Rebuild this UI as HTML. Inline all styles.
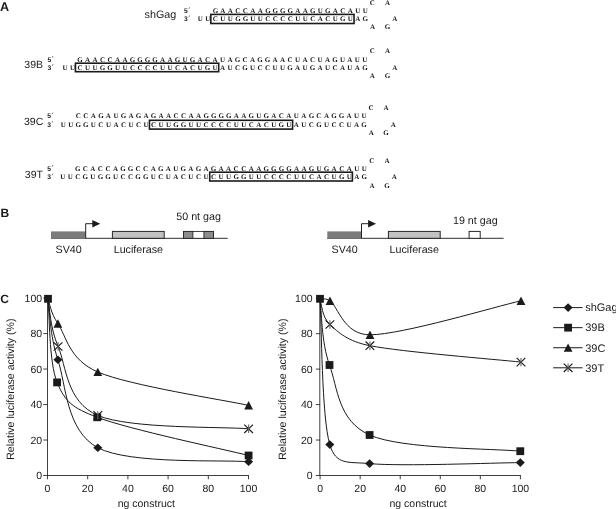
<!DOCTYPE html>
<html>
<head>
<meta charset="utf-8">
<title>Figure</title>
<style>
html, body { margin: 0; padding: 0; background: #ffffff; }
body { width: 616px; height: 509px; overflow: hidden; font-family: "Liberation Sans", sans-serif; }
svg { display: block; will-change: transform; }
text { white-space: pre; text-rendering: geometricPrecision; }
</style>
</head>
<body>
<svg width="616" height="509" viewBox="0 0 616 509">
<rect x="0" y="0" width="616" height="509" fill="#ffffff"/>
<text x="200.40 207.90 215.39 222.89 230.38 237.88 245.37 252.87 260.36 267.86 275.35 282.85 290.35 297.84 305.34 312.83 320.33 327.82 335.32 342.81 350.31 357.80 365.30" y="21.20" font-size="7.0" text-anchor="middle" font-weight="bold" font-family='"Liberation Serif", serif' fill="#1a1a1a">UUCUUGGUUCCCCUUCACUGUAG</text>
<text x="215.39 222.89 230.38 237.88 245.37 252.87 260.36 267.86 275.35 282.85 290.35 297.84 305.34 312.83 320.33 327.82 335.32 342.81 350.31 357.80 365.30" y="13.00" font-size="7.0" text-anchor="middle" font-weight="bold" font-family='"Liberation Serif", serif' fill="#1a1a1a">GAACCAAGGGGAAGUGACAUU</text>
<rect x="210.84" y="14.40" width="143.21" height="9.10" fill="none" stroke="#1a1a1a" stroke-width="1.6"/>
<text x="372.40" y="4.70" font-size="7.0" text-anchor="middle" font-weight="bold" font-family='"Liberation Serif", serif' fill="#1a1a1a">C</text>
<text x="387.50" y="4.70" font-size="7.0" text-anchor="middle" font-weight="bold" font-family='"Liberation Serif", serif' fill="#1a1a1a">A</text>
<text x="394.70" y="21.20" font-size="7.0" text-anchor="middle" font-weight="bold" font-family='"Liberation Serif", serif' fill="#1a1a1a">A</text>
<text x="372.50" y="29.20" font-size="7.0" text-anchor="middle" font-weight="bold" font-family='"Liberation Serif", serif' fill="#1a1a1a">A</text>
<text x="387.50" y="29.20" font-size="7.0" text-anchor="middle" font-weight="bold" font-family='"Liberation Serif", serif' fill="#1a1a1a">G</text>
<text x="144.60" y="18.10" font-size="10.75" text-anchor="start" font-weight="normal" font-family='"Liberation Sans", sans-serif' fill="#1a1a1a" >shGag</text>
<text x="184.00" y="12.90" font-size="6.7" text-anchor="start" font-weight="bold" font-family='"Liberation Sans", sans-serif' fill="#1a1a1a" >5</text>
<line x1="189.60" y1="7.30" x2="188.90" y2="8.90" stroke="#444" stroke-width="0.7"/>
<text x="184.00" y="21.10" font-size="6.7" text-anchor="start" font-weight="bold" font-family='"Liberation Sans", sans-serif' fill="#1a1a1a" >3</text>
<line x1="189.60" y1="15.50" x2="188.90" y2="17.10" stroke="#444" stroke-width="0.7"/>
<text x="65.00 72.50 80.00 87.49 94.99 102.49 109.98 117.48 124.98 132.48 139.97 147.47 154.97 162.47 169.96 177.46 184.96 192.46 199.95 207.45 214.95 222.45 229.94 237.44 244.94 252.44 259.94 267.43 274.93 282.43 289.92 297.42 304.92 312.42 319.91 327.41 334.91 342.41 349.90 357.40 364.90" y="69.80" font-size="7.0" text-anchor="middle" font-weight="bold" font-family='"Liberation Serif", serif' fill="#1a1a1a">UUCUUGGUUCCCCUUCACUGUAUCGUCCUUGAUGAUCAUAG</text>
<text x="80.00 87.49 94.99 102.49 109.98 117.48 124.98 132.48 139.97 147.47 154.97 162.47 169.97 177.46 184.96 192.46 199.95 207.45 214.95 222.45 229.94 237.44 244.94 252.44 259.94 267.43 274.93 282.43 289.92 297.42 304.92 312.42 319.91 327.41 334.91 342.41 349.90 357.40 364.90" y="61.70" font-size="7.0" text-anchor="middle" font-weight="bold" font-family='"Liberation Serif", serif' fill="#1a1a1a">GAACCAAGGGGAAGUGACAUAGCAGGAACUACUAGUAUU</text>
<rect x="75.45" y="63.20" width="143.25" height="8.50" fill="none" stroke="#1a1a1a" stroke-width="1.6"/>
<text x="372.30" y="53.00" font-size="7.0" text-anchor="middle" font-weight="bold" font-family='"Liberation Serif", serif' fill="#1a1a1a">C</text>
<text x="387.50" y="53.00" font-size="7.0" text-anchor="middle" font-weight="bold" font-family='"Liberation Serif", serif' fill="#1a1a1a">A</text>
<text x="394.80" y="69.80" font-size="7.0" text-anchor="middle" font-weight="bold" font-family='"Liberation Serif", serif' fill="#1a1a1a">A</text>
<text x="372.40" y="78.10" font-size="7.0" text-anchor="middle" font-weight="bold" font-family='"Liberation Serif", serif' fill="#1a1a1a">A</text>
<text x="387.50" y="78.10" font-size="7.0" text-anchor="middle" font-weight="bold" font-family='"Liberation Serif", serif' fill="#1a1a1a">G</text>
<text x="24.30" y="68.30" font-size="10.5" text-anchor="start" font-weight="normal" font-family='"Liberation Sans", sans-serif' fill="#1a1a1a" >39B</text>
<text x="47.40" y="61.60" font-size="6.7" text-anchor="start" font-weight="bold" font-family='"Liberation Sans", sans-serif' fill="#1a1a1a" >5</text>
<line x1="53.00" y1="56.00" x2="52.30" y2="57.60" stroke="#444" stroke-width="0.7"/>
<text x="47.40" y="69.70" font-size="6.7" text-anchor="start" font-weight="bold" font-family='"Liberation Sans", sans-serif' fill="#1a1a1a" >3</text>
<line x1="53.00" y1="64.10" x2="52.30" y2="65.70" stroke="#444" stroke-width="0.7"/>
<text x="63.30 70.82 78.33 85.85 93.37 100.89 108.41 115.92 123.44 130.96 138.47 145.99 153.51 161.03 168.55 176.06 183.58 191.10 198.62 206.13 213.65 221.17 228.69 236.20 243.72 251.24 258.75 266.27 273.79 281.31 288.82 296.34 303.86 311.38 318.89 326.41 333.93 341.45 348.97 356.48 364.00" y="126.70" font-size="7.0" text-anchor="middle" font-weight="bold" font-family='"Liberation Serif", serif' fill="#1a1a1a">UUGGUCUACUCUCUUGGUUCCCCUUCACUGUAUCGUCCUAG</text>
<text x="78.33 85.85 93.37 100.89 108.40 115.92 123.44 130.96 138.47 145.99 153.51 161.03 168.54 176.06 183.58 191.10 198.61 206.13 213.65 221.17 228.68 236.20 243.72 251.24 258.75 266.27 273.79 281.31 288.82 296.34 303.86 311.38 318.89 326.41 333.93 341.45 348.96 356.48 364.00" y="118.40" font-size="7.0" text-anchor="middle" font-weight="bold" font-family='"Liberation Serif", serif' fill="#1a1a1a">CCAGAUGAGAGAACCAAGGGGAAGUGACAUAGCAGGAUU</text>
<rect x="149.45" y="120.30" width="143.13" height="8.80" fill="none" stroke="#1a1a1a" stroke-width="1.6"/>
<text x="371.10" y="109.90" font-size="7.0" text-anchor="middle" font-weight="bold" font-family='"Liberation Serif", serif' fill="#1a1a1a">C</text>
<text x="386.00" y="109.90" font-size="7.0" text-anchor="middle" font-weight="bold" font-family='"Liberation Serif", serif' fill="#1a1a1a">A</text>
<text x="393.40" y="126.70" font-size="7.0" text-anchor="middle" font-weight="bold" font-family='"Liberation Serif", serif' fill="#1a1a1a">A</text>
<text x="371.20" y="135.00" font-size="7.0" text-anchor="middle" font-weight="bold" font-family='"Liberation Serif", serif' fill="#1a1a1a">A</text>
<text x="386.00" y="135.00" font-size="7.0" text-anchor="middle" font-weight="bold" font-family='"Liberation Serif", serif' fill="#1a1a1a">G</text>
<text x="24.00" y="125.20" font-size="10.5" text-anchor="start" font-weight="normal" font-family='"Liberation Sans", sans-serif' fill="#1a1a1a" >39C</text>
<text x="47.20" y="118.30" font-size="6.7" text-anchor="start" font-weight="bold" font-family='"Liberation Sans", sans-serif' fill="#1a1a1a" >5</text>
<line x1="52.80" y1="112.70" x2="52.10" y2="114.30" stroke="#444" stroke-width="0.7"/>
<text x="47.20" y="126.60" font-size="6.7" text-anchor="start" font-weight="bold" font-family='"Liberation Sans", sans-serif' fill="#1a1a1a" >3</text>
<line x1="52.80" y1="121.00" x2="52.10" y2="122.60" stroke="#444" stroke-width="0.7"/>
<text x="62.70 70.24 77.78 85.32 92.86 100.40 107.94 115.48 123.02 130.56 138.10 145.64 153.18 160.72 168.26 175.80 183.34 190.88 198.42 205.96 213.50 221.04 228.58 236.12 243.66 251.20 258.74 266.28 273.82 281.36 288.90 296.44 303.98 311.52 319.06 326.60 334.14 341.68 349.22 356.76 364.30" y="179.30" font-size="7.0" text-anchor="middle" font-weight="bold" font-family='"Liberation Serif", serif' fill="#1a1a1a">UUCGUGGUCCGGUCUACUCUCUUGGUUCCCCUUCACUGUAG</text>
<text x="77.78 85.32 92.86 100.40 107.94 115.48 123.02 130.56 138.10 145.64 153.18 160.72 168.26 175.80 183.34 190.88 198.42 205.96 213.50 221.04 228.58 236.12 243.66 251.20 258.74 266.28 273.82 281.36 288.90 296.44 303.98 311.52 319.06 326.60 334.14 341.68 349.22 356.76 364.30" y="170.70" font-size="7.0" text-anchor="middle" font-weight="bold" font-family='"Liberation Serif", serif' fill="#1a1a1a">GCACCAGGCCAGAUGAGAGAACCAAGGGGAAGUGACAUU</text>
<rect x="209.73" y="172.20" width="142.66" height="8.80" fill="none" stroke="#1a1a1a" stroke-width="1.6"/>
<text x="371.90" y="162.50" font-size="7.0" text-anchor="middle" font-weight="bold" font-family='"Liberation Serif", serif' fill="#1a1a1a">C</text>
<text x="387.00" y="162.50" font-size="7.0" text-anchor="middle" font-weight="bold" font-family='"Liberation Serif", serif' fill="#1a1a1a">A</text>
<text x="394.30" y="179.30" font-size="7.0" text-anchor="middle" font-weight="bold" font-family='"Liberation Serif", serif' fill="#1a1a1a">A</text>
<text x="372.00" y="187.50" font-size="7.0" text-anchor="middle" font-weight="bold" font-family='"Liberation Serif", serif' fill="#1a1a1a">A</text>
<text x="387.00" y="187.50" font-size="7.0" text-anchor="middle" font-weight="bold" font-family='"Liberation Serif", serif' fill="#1a1a1a">G</text>
<text x="24.80" y="177.80" font-size="10.5" text-anchor="start" font-weight="normal" font-family='"Liberation Sans", sans-serif' fill="#1a1a1a" >39T</text>
<text x="47.20" y="170.60" font-size="6.7" text-anchor="start" font-weight="bold" font-family='"Liberation Sans", sans-serif' fill="#1a1a1a" >5</text>
<line x1="52.80" y1="165.00" x2="52.10" y2="166.60" stroke="#444" stroke-width="0.7"/>
<text x="47.20" y="179.20" font-size="6.7" text-anchor="start" font-weight="bold" font-family='"Liberation Sans", sans-serif' fill="#1a1a1a" >3</text>
<line x1="52.80" y1="173.60" x2="52.10" y2="175.20" stroke="#444" stroke-width="0.7"/>
<text x="0.10" y="10.80" font-size="12.6" text-anchor="start" font-weight="bold" font-family='"Liberation Sans", sans-serif' fill="#1a1a1a" >A</text>
<text x="0.60" y="217.00" font-size="12" text-anchor="start" font-weight="bold" font-family='"Liberation Sans", sans-serif' fill="#1a1a1a" >B</text>
<text x="0.30" y="302.80" font-size="12" text-anchor="start" font-weight="bold" font-family='"Liberation Sans", sans-serif' fill="#1a1a1a" >C</text>
<line x1="51" y1="238.3" x2="227.7" y2="238.3" stroke="#222222" stroke-width="0.95"/>
<rect x="51" y="231.4" width="34.50" height="7.30" fill="#7b7b7b" stroke="none"/>
<polyline points="85.70,238.3 85.70,223.7 93.00,223.7" fill="none" stroke="#222222" stroke-width="1.0"/>
<polygon points="92.30,220.0 92.30,227.4 100.20,223.7" fill="#1a1a1a"/>
<rect x="112.4" y="231.4" width="51.80" height="6.90" fill="#c2c2c2" stroke="#222222" stroke-width="0.95"/>
<rect x="183.5" y="231.4" width="30.00" height="6.90" fill="#ffffff" stroke="#222222" stroke-width="0.85"/>
<rect x="183.5" y="231.4" width="9.4" height="6.90" fill="#8c8c8c" stroke="#222222" stroke-width="0.85"/>
<rect x="203.90" y="231.4" width="9.6" height="6.90" fill="#8c8c8c" stroke="#222222" stroke-width="0.85"/>
<text x="176.30" y="219.80" font-size="10.7" text-anchor="start" font-weight="normal" font-family='"Liberation Sans", sans-serif' fill="#1a1a1a" >50 nt gag</text>
<text x="55.50" y="252.60" font-size="10.7" text-anchor="start" font-weight="normal" font-family='"Liberation Sans", sans-serif' fill="#1a1a1a" >SV40</text>
<text x="113.70" y="252.60" font-size="10.7" text-anchor="start" font-weight="normal" font-family='"Liberation Sans", sans-serif' fill="#1a1a1a" >Luciferase</text>
<line x1="327.3" y1="238.3" x2="503.6" y2="238.3" stroke="#222222" stroke-width="0.95"/>
<rect x="327.3" y="231.4" width="34.00" height="7.30" fill="#7b7b7b" stroke="none"/>
<polyline points="361.50,238.3 361.50,223.7 368.80,223.7" fill="none" stroke="#222222" stroke-width="1.0"/>
<polygon points="368.10,220.0 368.10,227.4 376.00,223.7" fill="#1a1a1a"/>
<rect x="388.4" y="231.4" width="51.80" height="6.90" fill="#c2c2c2" stroke="#222222" stroke-width="0.95"/>
<rect x="469.1" y="231.4" width="11.10" height="6.90" fill="#ffffff" stroke="#222222" stroke-width="0.95"/>
<text x="453.00" y="223.50" font-size="10.7" text-anchor="start" font-weight="normal" font-family='"Liberation Sans", sans-serif' fill="#1a1a1a" >19 nt gag</text>
<text x="331.50" y="252.60" font-size="10.7" text-anchor="start" font-weight="normal" font-family='"Liberation Sans", sans-serif' fill="#1a1a1a" >SV40</text>
<text x="389.60" y="252.60" font-size="10.7" text-anchor="start" font-weight="normal" font-family='"Liberation Sans", sans-serif' fill="#1a1a1a" >Luciferase</text>
<line x1="47.5" y1="297.6" x2="47.5" y2="476.0" stroke="#2a2a2a" stroke-width="0.9"/>
<line x1="47.0" y1="475.5" x2="249.0" y2="475.5" stroke="#2a2a2a" stroke-width="0.9"/>
<line x1="43.3" y1="475.50" x2="47.5" y2="475.50" stroke="#2a2a2a" stroke-width="0.9"/>
<text x="42.10" y="479.25" font-size="10.5" text-anchor="end" font-weight="normal" font-family='"Liberation Sans", sans-serif' fill="#1a1a1a" >0</text>
<line x1="47.50" y1="475.5" x2="47.50" y2="479.3" stroke="#2a2a2a" stroke-width="0.9"/>
<text x="47.50" y="491.50" font-size="10.5" text-anchor="middle" font-weight="normal" font-family='"Liberation Sans", sans-serif' fill="#1a1a1a" >0</text>
<line x1="43.3" y1="440.02" x2="47.5" y2="440.02" stroke="#2a2a2a" stroke-width="0.9"/>
<text x="42.10" y="443.77" font-size="10.5" text-anchor="end" font-weight="normal" font-family='"Liberation Sans", sans-serif' fill="#1a1a1a" >20</text>
<line x1="87.70" y1="475.5" x2="87.70" y2="479.3" stroke="#2a2a2a" stroke-width="0.9"/>
<text x="87.70" y="491.50" font-size="10.5" text-anchor="middle" font-weight="normal" font-family='"Liberation Sans", sans-serif' fill="#1a1a1a" >20</text>
<line x1="43.3" y1="404.54" x2="47.5" y2="404.54" stroke="#2a2a2a" stroke-width="0.9"/>
<text x="42.10" y="408.29" font-size="10.5" text-anchor="end" font-weight="normal" font-family='"Liberation Sans", sans-serif' fill="#1a1a1a" >40</text>
<line x1="127.90" y1="475.5" x2="127.90" y2="479.3" stroke="#2a2a2a" stroke-width="0.9"/>
<text x="127.90" y="491.50" font-size="10.5" text-anchor="middle" font-weight="normal" font-family='"Liberation Sans", sans-serif' fill="#1a1a1a" >40</text>
<line x1="43.3" y1="369.06" x2="47.5" y2="369.06" stroke="#2a2a2a" stroke-width="0.9"/>
<text x="42.10" y="372.81" font-size="10.5" text-anchor="end" font-weight="normal" font-family='"Liberation Sans", sans-serif' fill="#1a1a1a" >60</text>
<line x1="168.10" y1="475.5" x2="168.10" y2="479.3" stroke="#2a2a2a" stroke-width="0.9"/>
<text x="168.10" y="491.50" font-size="10.5" text-anchor="middle" font-weight="normal" font-family='"Liberation Sans", sans-serif' fill="#1a1a1a" >60</text>
<line x1="43.3" y1="333.58" x2="47.5" y2="333.58" stroke="#2a2a2a" stroke-width="0.9"/>
<text x="42.10" y="337.33" font-size="10.5" text-anchor="end" font-weight="normal" font-family='"Liberation Sans", sans-serif' fill="#1a1a1a" >80</text>
<line x1="208.30" y1="475.5" x2="208.30" y2="479.3" stroke="#2a2a2a" stroke-width="0.9"/>
<text x="208.30" y="491.50" font-size="10.5" text-anchor="middle" font-weight="normal" font-family='"Liberation Sans", sans-serif' fill="#1a1a1a" >80</text>
<line x1="43.3" y1="298.10" x2="47.5" y2="298.10" stroke="#2a2a2a" stroke-width="0.9"/>
<text x="42.10" y="301.85" font-size="10.5" text-anchor="end" font-weight="normal" font-family='"Liberation Sans", sans-serif' fill="#1a1a1a" >100</text>
<line x1="248.50" y1="475.5" x2="248.50" y2="479.3" stroke="#2a2a2a" stroke-width="0.9"/>
<text x="248.50" y="491.50" font-size="10.5" text-anchor="middle" font-weight="normal" font-family='"Liberation Sans", sans-serif' fill="#1a1a1a" >100</text>
<text transform="translate(13.7,459.8) rotate(-90)" font-size="10.6" font-family='"Liberation Sans", sans-serif' fill="#1a1a1a">Relative luciferase activity (%)</text>
<text x="117.70" y="506.60" font-size="10.5" text-anchor="start" font-weight="normal" font-family='"Liberation Sans", sans-serif' fill="#1a1a1a" >ng construct</text>
<path d="M48.00,298.80 C49.65,308.97 49.60,334.98 57.90,359.80 C66.20,384.62 66.02,430.70 97.80,447.70 C129.58,464.70 223.47,459.45 248.60,461.80" fill="none" stroke="#1a1a1a" stroke-width="1.0"/>
<path d="M48.00,298.80 C49.52,312.73 48.88,362.65 57.10,382.40 C65.32,402.15 72.43,407.81 97.30,417.30 C129.22,429.48 223.38,449.13 248.60,455.50" fill="none" stroke="#1a1a1a" stroke-width="1.0"/>
<path d="M48.00,298.80 C49.65,302.93 50.39,312.56 57.90,323.60 C66.20,335.80 68.98,359.64 97.80,372.00 C129.58,385.63 223.47,399.83 248.60,405.40" fill="none" stroke="#1a1a1a" stroke-width="1.0"/>
<path d="M48.00,298.80 C49.68,306.75 49.80,327.07 58.10,346.50 C66.40,365.93 66.05,401.68 97.80,415.40 C129.55,429.12 223.47,426.57 248.60,428.80" fill="none" stroke="#1a1a1a" stroke-width="1.0"/>
<polygon points="53.40,359.80 57.90,355.50 62.40,359.80 57.90,364.10" fill="#1a1a1a"/>
<polygon points="93.30,447.70 97.80,443.40 102.30,447.70 97.80,452.00" fill="#1a1a1a"/>
<polygon points="244.10,461.80 248.60,457.50 253.10,461.80 248.60,466.10" fill="#1a1a1a"/>
<rect x="44.10" y="294.90" width="7.8" height="7.8" fill="#1a1a1a"/>
<rect x="53.20" y="378.50" width="7.8" height="7.8" fill="#1a1a1a"/>
<rect x="93.40" y="413.40" width="7.8" height="7.8" fill="#1a1a1a"/>
<rect x="244.70" y="451.60" width="7.8" height="7.8" fill="#1a1a1a"/>
<polygon points="53.50,327.70 62.30,327.70 57.90,319.30" fill="#1a1a1a"/>
<polygon points="93.40,376.10 102.20,376.10 97.80,367.70" fill="#1a1a1a"/>
<polygon points="244.20,409.50 253.00,409.50 248.60,401.10" fill="#1a1a1a"/>
<path d="M53.75,342.30 L62.45,350.70 M62.45,342.30 L53.75,350.70" stroke="#1a1a1a" stroke-width="1.15" fill="none"/>
<path d="M58.10,342.30 L58.10,350.70" stroke="#666" stroke-width="1.1" fill="none"/>
<path d="M93.45,411.20 L102.15,419.60 M102.15,411.20 L93.45,419.60" stroke="#1a1a1a" stroke-width="1.15" fill="none"/>
<path d="M97.80,411.20 L97.80,419.60" stroke="#666" stroke-width="1.1" fill="none"/>
<path d="M244.25,424.60 L252.95,433.00 M252.95,424.60 L244.25,433.00" stroke="#1a1a1a" stroke-width="1.15" fill="none"/>
<path d="M248.60,424.60 L248.60,433.00" stroke="#666" stroke-width="1.1" fill="none"/>
<line x1="319.8" y1="297.7" x2="319.8" y2="476.0" stroke="#2a2a2a" stroke-width="0.9"/>
<line x1="319.6" y1="475.5" x2="520.9" y2="475.5" stroke="#2a2a2a" stroke-width="0.9"/>
<line x1="315.90000000000003" y1="475.50" x2="320.1" y2="475.50" stroke="#2a2a2a" stroke-width="0.9"/>
<text x="312.60" y="479.25" font-size="10.5" text-anchor="end" font-weight="normal" font-family='"Liberation Sans", sans-serif' fill="#1a1a1a" >0</text>
<line x1="320.10" y1="475.5" x2="320.10" y2="479.3" stroke="#2a2a2a" stroke-width="0.9"/>
<text x="320.10" y="491.50" font-size="10.5" text-anchor="middle" font-weight="normal" font-family='"Liberation Sans", sans-serif' fill="#1a1a1a" >0</text>
<line x1="315.90000000000003" y1="440.04" x2="320.1" y2="440.04" stroke="#2a2a2a" stroke-width="0.9"/>
<text x="312.60" y="443.79" font-size="10.5" text-anchor="end" font-weight="normal" font-family='"Liberation Sans", sans-serif' fill="#1a1a1a" >20</text>
<line x1="360.16" y1="475.5" x2="360.16" y2="479.3" stroke="#2a2a2a" stroke-width="0.9"/>
<text x="360.16" y="491.50" font-size="10.5" text-anchor="middle" font-weight="normal" font-family='"Liberation Sans", sans-serif' fill="#1a1a1a" >20</text>
<line x1="315.90000000000003" y1="404.58" x2="320.1" y2="404.58" stroke="#2a2a2a" stroke-width="0.9"/>
<text x="312.60" y="408.33" font-size="10.5" text-anchor="end" font-weight="normal" font-family='"Liberation Sans", sans-serif' fill="#1a1a1a" >40</text>
<line x1="400.22" y1="475.5" x2="400.22" y2="479.3" stroke="#2a2a2a" stroke-width="0.9"/>
<text x="400.22" y="491.50" font-size="10.5" text-anchor="middle" font-weight="normal" font-family='"Liberation Sans", sans-serif' fill="#1a1a1a" >40</text>
<line x1="315.90000000000003" y1="369.12" x2="320.1" y2="369.12" stroke="#2a2a2a" stroke-width="0.9"/>
<text x="312.60" y="372.87" font-size="10.5" text-anchor="end" font-weight="normal" font-family='"Liberation Sans", sans-serif' fill="#1a1a1a" >60</text>
<line x1="440.28" y1="475.5" x2="440.28" y2="479.3" stroke="#2a2a2a" stroke-width="0.9"/>
<text x="440.28" y="491.50" font-size="10.5" text-anchor="middle" font-weight="normal" font-family='"Liberation Sans", sans-serif' fill="#1a1a1a" >60</text>
<line x1="315.90000000000003" y1="333.66" x2="320.1" y2="333.66" stroke="#2a2a2a" stroke-width="0.9"/>
<text x="312.60" y="337.41" font-size="10.5" text-anchor="end" font-weight="normal" font-family='"Liberation Sans", sans-serif' fill="#1a1a1a" >80</text>
<line x1="480.34" y1="475.5" x2="480.34" y2="479.3" stroke="#2a2a2a" stroke-width="0.9"/>
<text x="480.34" y="491.50" font-size="10.5" text-anchor="middle" font-weight="normal" font-family='"Liberation Sans", sans-serif' fill="#1a1a1a" >80</text>
<line x1="315.90000000000003" y1="298.20" x2="320.1" y2="298.20" stroke="#2a2a2a" stroke-width="0.9"/>
<text x="312.60" y="301.95" font-size="10.5" text-anchor="end" font-weight="normal" font-family='"Liberation Sans", sans-serif' fill="#1a1a1a" >100</text>
<line x1="520.40" y1="475.5" x2="520.40" y2="479.3" stroke="#2a2a2a" stroke-width="0.9"/>
<text x="520.40" y="491.50" font-size="10.5" text-anchor="middle" font-weight="normal" font-family='"Liberation Sans", sans-serif' fill="#1a1a1a" >100</text>
<text transform="translate(285.5,459.8) rotate(-90)" font-size="10.6" font-family='"Liberation Sans", sans-serif' fill="#1a1a1a">Relative luciferase activity (%)</text>
<text x="389.50" y="506.60" font-size="10.5" text-anchor="start" font-weight="normal" font-family='"Liberation Sans", sans-serif' fill="#1a1a1a" >ng construct</text>
<path d="M320.00,298.80 C321.63,323.10 321.53,417.13 329.80,444.60 C336.16,465.72 347.65,461.53 369.60,463.60 C401.35,466.60 495.18,462.77 520.30,462.60" fill="none" stroke="#1a1a1a" stroke-width="1.0"/>
<path d="M320.00,298.80 C321.58,309.83 321.23,342.30 329.50,365.00 C337.77,387.70 337.80,420.63 369.60,435.00 C401.40,449.37 495.18,448.50 520.30,451.20" fill="none" stroke="#1a1a1a" stroke-width="1.0"/>
<path d="M320.00,298.80 C321.67,299.15 325.85,297.91 330.00,300.90 C338.33,306.90 343.78,334.81 370.00,334.80 C401.83,334.78 495.83,306.47 521.00,300.80" fill="none" stroke="#1a1a1a" stroke-width="1.0"/>
<path d="M320.00,298.80 C321.65,303.08 321.58,316.68 329.90,324.50 C338.22,332.32 347.69,341.33 369.90,345.70 C401.75,351.97 495.82,359.37 521.00,362.10" fill="none" stroke="#1a1a1a" stroke-width="1.0"/>
<polygon points="325.30,444.60 329.80,440.30 334.30,444.60 329.80,448.90" fill="#1a1a1a"/>
<polygon points="365.10,463.60 369.60,459.30 374.10,463.60 369.60,467.90" fill="#1a1a1a"/>
<polygon points="515.80,462.60 520.30,458.30 524.80,462.60 520.30,466.90" fill="#1a1a1a"/>
<rect x="316.10" y="294.90" width="7.8" height="7.8" fill="#1a1a1a"/>
<rect x="325.60" y="361.10" width="7.8" height="7.8" fill="#1a1a1a"/>
<rect x="365.70" y="431.10" width="7.8" height="7.8" fill="#1a1a1a"/>
<rect x="516.40" y="447.30" width="7.8" height="7.8" fill="#1a1a1a"/>
<polygon points="325.60,305.00 334.40,305.00 330.00,296.60" fill="#1a1a1a"/>
<polygon points="365.60,338.90 374.40,338.90 370.00,330.50" fill="#1a1a1a"/>
<polygon points="516.60,304.90 525.40,304.90 521.00,296.50" fill="#1a1a1a"/>
<path d="M325.55,320.30 L334.25,328.70 M334.25,320.30 L325.55,328.70" stroke="#1a1a1a" stroke-width="1.15" fill="none"/>
<path d="M329.90,320.30 L329.90,328.70" stroke="#666" stroke-width="1.1" fill="none"/>
<path d="M365.55,341.50 L374.25,349.90 M374.25,341.50 L365.55,349.90" stroke="#1a1a1a" stroke-width="1.15" fill="none"/>
<path d="M369.90,341.50 L369.90,349.90" stroke="#666" stroke-width="1.1" fill="none"/>
<path d="M516.65,357.90 L525.35,366.30 M525.35,357.90 L516.65,366.30" stroke="#1a1a1a" stroke-width="1.15" fill="none"/>
<path d="M521.00,357.90 L521.00,366.30" stroke="#666" stroke-width="1.1" fill="none"/>
<line x1="553.2" y1="307.60" x2="582.6" y2="307.60" stroke="#1a1a1a" stroke-width="1"/>
<polygon points="563.60,307.60 568.10,303.30 572.60,307.60 568.10,311.90" fill="#1a1a1a"/>
<text x="585.20" y="311.40" font-size="11" text-anchor="start" font-weight="normal" font-family='"Liberation Sans", sans-serif' fill="#1a1a1a" >shGag</text>
<line x1="553.2" y1="327.67" x2="582.6" y2="327.67" stroke="#1a1a1a" stroke-width="1"/>
<rect x="564.20" y="323.77" width="7.8" height="7.8" fill="#1a1a1a"/>
<text x="585.20" y="331.47" font-size="11" text-anchor="start" font-weight="normal" font-family='"Liberation Sans", sans-serif' fill="#1a1a1a" >39B</text>
<line x1="553.2" y1="347.74" x2="582.6" y2="347.74" stroke="#1a1a1a" stroke-width="1"/>
<polygon points="563.70,351.84 572.50,351.84 568.10,343.44" fill="#1a1a1a"/>
<text x="585.20" y="351.54" font-size="11" text-anchor="start" font-weight="normal" font-family='"Liberation Sans", sans-serif' fill="#1a1a1a" >39C</text>
<line x1="553.2" y1="367.81" x2="582.6" y2="367.81" stroke="#1a1a1a" stroke-width="1"/>
<path d="M563.75,363.61 L572.45,372.01 M572.45,363.61 L563.75,372.01" stroke="#1a1a1a" stroke-width="1.15" fill="none"/>
<path d="M568.10,363.61 L568.10,372.01" stroke="#666" stroke-width="1.1" fill="none"/>
<text x="585.20" y="371.61" font-size="11" text-anchor="start" font-weight="normal" font-family='"Liberation Sans", sans-serif' fill="#1a1a1a" >39T</text>
</svg>
</body>
</html>
